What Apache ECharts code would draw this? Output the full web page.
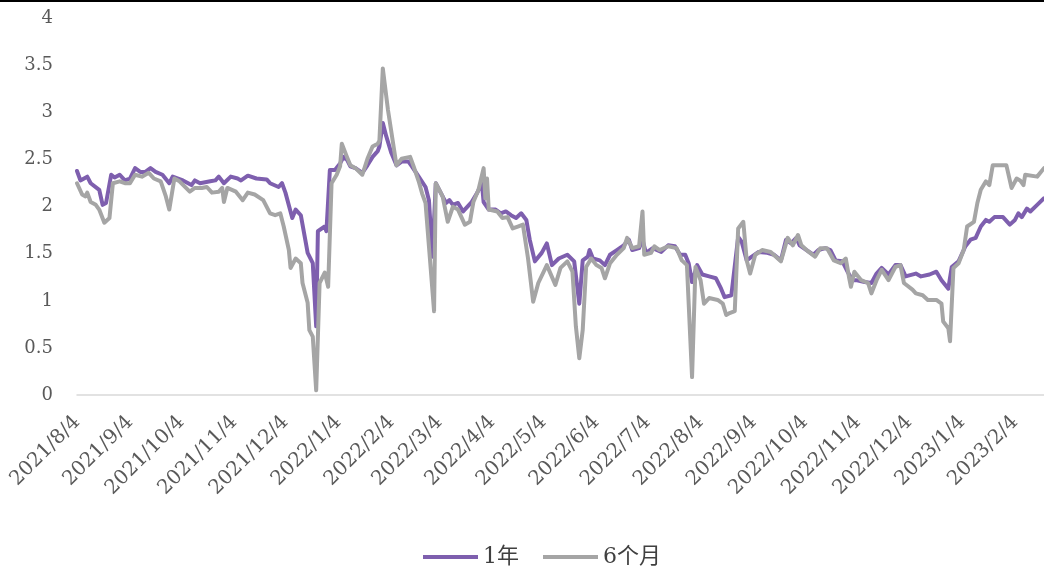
<!DOCTYPE html>
<html>
<head>
<meta charset="utf-8">
<script src="https://cdn.jsdelivr.net/npm/echarts@6/dist/echarts.min.js"></script>
<style>
  html, body { margin: 0; padding: 0; background: #ffffff; }
  #chart { width: 1044px; height: 572px; }
</style>
</head>
<body>
<div id="chart"></div>
<script>
// Axis range (calendar days) and monthly tick labels
const firstDay = '2021/8/4';
const lastDay = '2023/2/21';
const tickLabels = [
  '2021/8/4', '2021/9/4', '2021/10/4', '2021/11/4', '2021/12/4',
  '2022/1/4', '2022/2/4', '2022/3/4', '2022/4/4', '2022/5/4', '2022/6/4',
  '2022/7/4', '2022/8/4', '2022/9/4', '2022/10/4', '2022/11/4', '2022/12/4',
  '2023/1/4', '2023/2/4'
];

// 1-year yield (%)
const dates1Y = [
  '2021/8/4','2021/8/6','2021/8/10','2021/8/12','2021/8/17','2021/8/19','2021/8/21','2021/8/24','2021/8/26','2021/8/29',
  '2021/9/1','2021/9/4','2021/9/7','2021/9/10','2021/9/13','2021/9/16','2021/9/19','2021/9/23','2021/9/27','2021/9/29',
  '2021/10/5','2021/10/10','2021/10/12','2021/10/15','2021/10/21','2021/10/24','2021/10/26','2021/10/29',
  '2021/11/2','2021/11/6','2021/11/8','2021/11/12','2021/11/17','2021/11/23','2021/11/25','2021/11/30',
  '2021/12/2','2021/12/4','2021/12/8','2021/12/10','2021/12/13','2021/12/16','2021/12/17','2021/12/20','2021/12/22','2021/12/23','2021/12/27','2021/12/28','2021/12/30',
  '2022/1/2','2022/1/5','2022/1/7','2022/1/9','2022/1/11','2022/1/14','2022/1/18','2022/1/21','2022/1/24','2022/1/27','2022/1/28','2022/1/30',
  '2022/2/1','2022/2/4','2022/2/7','2022/2/10','2022/2/14','2022/2/16','2022/2/20','2022/2/24','2022/2/26','2022/2/28',
  '2022/3/2','2022/3/6','2022/3/8','2022/3/10','2022/3/12','2022/3/15','2022/3/18','2022/3/23','2022/3/26','2022/3/29','2022/3/30',
  '2022/4/2','2022/4/6','2022/4/9','2022/4/12','2022/4/15','2022/4/18','2022/4/21','2022/4/24','2022/4/26','2022/4/29',
  '2022/5/3','2022/5/6','2022/5/9','2022/5/13','2022/5/18','2022/5/22','2022/5/25','2022/5/27','2022/5/30','2022/5/31',
  '2022/6/2','2022/6/6','2022/6/9','2022/6/12','2022/6/16','2022/6/20','2022/6/23','2022/6/25','2022/6/29',
  '2022/7/1','2022/7/3','2022/7/7','2022/7/12','2022/7/16','2022/7/20','2022/7/23','2022/7/26','2022/7/28','2022/7/30',
  '2022/8/2','2022/8/5','2022/8/9','2022/8/13','2022/8/16','2022/8/18','2022/8/22','2022/8/23','2022/8/26','2022/8/28','2022/8/31',
  '2022/9/3','2022/9/7','2022/9/12','2022/9/16','2022/9/20','2022/9/23','2022/9/26','2022/9/29',
  '2022/10/1','2022/10/5','2022/10/9','2022/10/12','2022/10/16','2022/10/19','2022/10/22','2022/10/26','2022/10/29',
  '2022/11/1','2022/11/3','2022/11/8','2022/11/12','2022/11/15','2022/11/18','2022/11/22','2022/11/26','2022/11/29',
  '2022/12/2','2022/12/8','2022/12/11','2022/12/16','2022/12/20','2022/12/23','2022/12/27','2022/12/29',
  '2023/1/2','2023/1/6','2023/1/9','2023/1/12','2023/1/15','2023/1/18','2023/1/20','2023/1/23','2023/1/28',
  '2023/2/1','2023/2/4','2023/2/6','2023/2/8','2023/2/11','2023/2/13','2023/2/17','2023/2/21'
];
const rate1Y = [
  2.38,2.28,2.32,2.25,2.18,2.02,2.04,2.34,2.31,2.34,
  2.28,2.30,2.41,2.37,2.37,2.41,2.37,2.34,2.25,2.32,
  2.28,2.23,2.28,2.25,2.27,2.28,2.32,2.25,
  2.32,2.30,2.28,2.33,2.30,2.29,2.25,2.21,
  2.25,2.15,1.88,1.97,1.91,1.61,1.51,1.40,0.73,1.74,1.79,1.74,2.39,
  2.39,2.46,2.53,2.50,2.43,2.41,2.36,2.44,2.53,2.59,2.64,2.89,
  2.75,2.57,2.44,2.48,2.48,2.43,2.32,2.21,2.07,1.47,
  2.25,2.11,2.04,2.07,2.02,2.04,1.95,2.05,2.14,2.25,2.05,
  1.97,1.97,1.93,1.95,1.91,1.88,1.93,1.86,1.65,1.42,
  1.51,1.61,1.38,1.45,1.49,1.42,0.97,1.43,1.47,1.54,
  1.45,1.43,1.38,1.49,1.54,1.59,1.65,1.54,1.56,
  1.65,1.51,1.56,1.52,1.59,1.58,1.49,1.49,1.40,1.20,
  1.38,1.28,1.26,1.24,1.13,1.04,1.06,1.08,1.68,1.63,1.43,
  1.47,1.52,1.51,1.49,1.43,1.65,1.61,1.67,
  1.59,1.54,1.49,1.54,1.56,1.54,1.43,1.42,1.31,
  1.22,1.22,1.20,1.19,1.29,1.35,1.28,1.38,1.38,
  1.26,1.29,1.26,1.28,1.31,1.22,1.13,1.36,
  1.42,1.58,1.65,1.67,1.79,1.86,1.84,1.89,1.89,
  1.81,1.86,1.93,1.89,1.98,1.95,2.02,2.09
];

// 6-month yield (%)
const dates6M = [
  '2021/8/4','2021/8/7','2021/8/9','2021/8/10','2021/8/12','2021/8/15','2021/8/17','2021/8/20','2021/8/23','2021/8/25','2021/8/29',
  '2021/9/1','2021/9/4','2021/9/7','2021/9/11','2021/9/15','2021/9/18','2021/9/22','2021/9/25','2021/9/27','2021/9/30',
  '2021/10/3','2021/10/9','2021/10/12','2021/10/16','2021/10/19','2021/10/22','2021/10/26','2021/10/28','2021/10/29','2021/10/31',
  '2021/11/5','2021/11/9','2021/11/12','2021/11/16','2021/11/21','2021/11/25','2021/11/28',
  '2021/12/1','2021/12/3','2021/12/6','2021/12/7','2021/12/10','2021/12/13','2021/12/14','2021/12/17','2021/12/18','2021/12/20','2021/12/22','2021/12/24','2021/12/27','2021/12/29','2021/12/31',
  '2022/1/3','2022/1/5','2022/1/6','2022/1/9','2022/1/11','2022/1/14','2022/1/18','2022/1/21','2022/1/24','2022/1/27','2022/1/28','2022/1/30',
  '2022/2/2','2022/2/7','2022/2/10','2022/2/15','2022/2/17','2022/2/20','2022/2/22','2022/2/24','2022/2/26',
  '2022/3/1','2022/3/2','2022/3/6','2022/3/9','2022/3/12','2022/3/15','2022/3/19','2022/3/22','2022/3/24','2022/3/27','2022/3/30','2022/3/31',
  '2022/4/1','2022/4/2','2022/4/7','2022/4/10','2022/4/13','2022/4/16','2022/4/19','2022/4/22','2022/4/25','2022/4/28',
  '2022/5/1','2022/5/6','2022/5/11','2022/5/14','2022/5/18','2022/5/21','2022/5/23','2022/5/25','2022/5/27','2022/5/29',
  '2022/6/1','2022/6/4','2022/6/7','2022/6/9','2022/6/12','2022/6/16','2022/6/20','2022/6/22','2022/6/25','2022/6/29',
  '2022/7/1','2022/7/2','2022/7/6','2022/7/8','2022/7/11','2022/7/16','2022/7/21','2022/7/24','2022/7/27','2022/7/28','2022/7/30',
  '2022/8/1','2022/8/4','2022/8/6','2022/8/9','2022/8/14','2022/8/17','2022/8/19','2022/8/21','2022/8/24','2022/8/26','2022/8/29','2022/8/31',
  '2022/9/2','2022/9/5','2022/9/9','2022/9/14','2022/9/20','2022/9/24','2022/9/27','2022/9/30',
  '2022/10/2','2022/10/5','2022/10/10','2022/10/13','2022/10/17','2022/10/21','2022/10/25','2022/10/28','2022/10/30','2022/10/31',
  '2022/11/2','2022/11/6','2022/11/10','2022/11/12','2022/11/15','2022/11/18','2022/11/22','2022/11/26','2022/11/29',
  '2022/12/1','2022/12/6','2022/12/8','2022/12/12','2022/12/15','2022/12/20','2022/12/23','2022/12/24','2022/12/27','2022/12/28','2022/12/30',
  '2023/1/2','2023/1/5','2023/1/7','2023/1/11','2023/1/13','2023/1/15','2023/1/18','2023/1/20','2023/1/22','2023/1/30','2023/1/31',
  '2023/2/2','2023/2/5','2023/2/7','2023/2/9','2023/2/10','2023/2/17','2023/2/21'
];
const rate6M = [
  2.25,2.13,2.11,2.15,2.05,2.02,1.97,1.83,1.88,2.25,2.27,
  2.25,2.25,2.34,2.32,2.36,2.30,2.27,2.11,1.97,2.30,
  2.27,2.16,2.20,2.20,2.21,2.15,2.16,2.20,2.05,2.20,
  2.16,2.07,2.15,2.13,2.07,1.93,1.91,
  1.93,1.79,1.54,1.35,1.45,1.40,1.19,0.98,0.69,0.62,0.05,1.19,1.30,1.15,2.25,
  2.34,2.43,2.67,2.53,2.44,2.41,2.34,2.51,2.64,2.67,2.70,3.47,
  3.03,2.44,2.51,2.53,2.43,2.27,2.14,2.04,1.58,
  0.89,2.25,2.11,1.84,2.00,1.97,1.81,1.84,2.05,2.18,2.41,2.09,
  2.30,1.97,1.95,1.88,1.89,1.77,1.79,1.81,1.45,0.99,
  1.19,1.38,1.17,1.35,1.42,1.31,0.73,0.39,0.69,1.36,
  1.45,1.38,1.35,1.24,1.40,1.49,1.56,1.67,1.56,1.58,
  1.95,1.49,1.51,1.58,1.54,1.58,1.56,1.43,1.38,1.36,0.19,
  1.36,1.22,0.97,1.03,1.01,0.97,0.85,0.87,0.89,1.77,1.84,1.43,
  1.29,1.49,1.54,1.52,1.42,1.67,1.59,1.70,
  1.59,1.54,1.47,1.56,1.56,1.43,1.40,1.45,1.24,1.15,
  1.31,1.22,1.19,1.08,1.22,1.33,1.22,1.36,1.38,
  1.19,1.12,1.08,1.06,1.01,1.01,0.97,0.78,0.71,0.57,1.35,
  1.40,1.54,1.79,1.84,2.04,2.18,2.27,2.23,2.44,2.44,2.36,
  2.20,2.30,2.28,2.23,2.34,2.32,2.41
];

const COLOR_1Y = '#7E5FAE';
const COLOR_6M = '#A5A5A5';
const TEXT_COLOR = '#595959';

// Every calendar day on the x axis, so months get their true width
function parseDay(s) {
  const [y, m, d] = s.split('/').map(Number);
  return Date.UTC(y, m - 1, d);
}
const days = [];
for (let t = parseDay(firstDay); t <= parseDay(lastDay); t += 86400000) {
  const dt = new Date(t);
  days.push(dt.getUTCFullYear() + '/' + (dt.getUTCMonth() + 1) + '/' + dt.getUTCDate());
}
const dayIndex = {};
days.forEach((d, i) => { dayIndex[d] = i; });
const tickSet = new Set(tickLabels);

function pairs(dates, values) {
  return dates.map((d, i) => [dayIndex[d], values[i]]);
}

const chart = echarts.init(document.getElementById('chart'), null, { renderer: 'canvas' });
chart.setOption({
  animation: false,
  backgroundColor: '#ffffff',
  graphic: [{
    type: 'rect', left: 0, top: 0, z: 10,
    shape: { width: 1044, height: 2 },
    style: { fill: '#000000' }
  }],
  grid: {
    left: 77, right: 0, top: 18.5, bottom: 177,
    containLabel: false,
    outerBoundsMode: 'none'
  },
  legend: {
    data: ['1年', '6个月'],
    left: 418,
    top: 541,
    icon: 'rect',
    itemWidth: 55,
    itemHeight: 4,
    itemGap: 24,
    textStyle: {
      fontFamily: "'DejaVu Serif', 'Noto Sans CJK SC'",
      fontSize: 22,
      color: '#404040'
    }
  },
  xAxis: {
    type: 'category',
    data: days,
    boundaryGap: false,
    axisLine: { show: true, lineStyle: { color: '#D9D9D9', width: 1.5 } },
    axisTick: { show: false },
    splitLine: { show: false },
    axisLabel: {
      interval: (index, value) => tickSet.has(value),
      rotate: 45,
      margin: 24,
      fontFamily: 'DejaVu Serif',
      fontSize: 20,
      color: TEXT_COLOR,
      hideOverlap: false
    }
  },
  yAxis: {
    type: 'value',
    min: 0,
    max: 4,
    interval: 0.5,
    axisLine: { show: false },
    axisTick: { show: false },
    splitLine: { show: false },
    axisLabel: {
      margin: 24,
      fontFamily: 'DejaVu Serif',
      fontSize: 18,
      color: TEXT_COLOR
    }
  },
  series: [
    {
      name: '1年',
      type: 'line',
      data: pairs(dates1Y, rate1Y),
      symbol: 'none',
      showSymbol: false,
      itemStyle: { color: COLOR_1Y },
      lineStyle: { color: COLOR_1Y, width: 4, join: 'round', cap: 'round' },
      z: 2
    },
    {
      name: '6个月',
      type: 'line',
      data: pairs(dates6M, rate6M),
      symbol: 'none',
      showSymbol: false,
      itemStyle: { color: COLOR_6M },
      lineStyle: { color: COLOR_6M, width: 4, join: 'round', cap: 'round' },
      z: 3
    }
  ]
});
</script>
</body>
</html>
